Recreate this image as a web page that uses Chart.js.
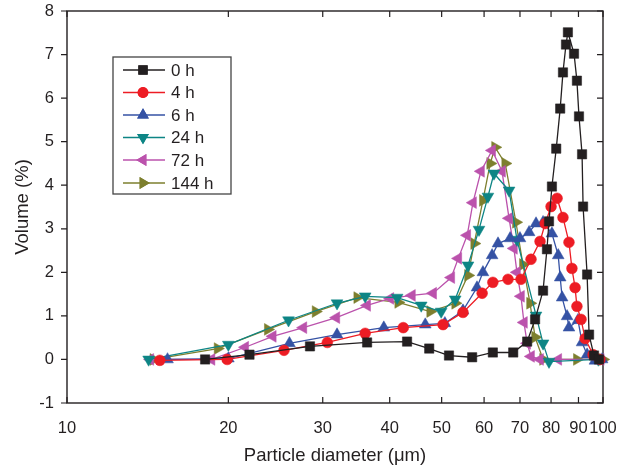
<!DOCTYPE html>
<html>
<head>
<meta charset="utf-8">
<script src="https://cdn.jsdelivr.net/npm/chart.js@4/dist/chart.umd.min.js"></script>
<style>
html,body{margin:0;padding:0;background:#fff;}
#wrap{width:631px;height:470px;}
</style>
</head>
<body>
<div id="wrap"><canvas id="c" width="631" height="470"></canvas></div>
<script>
// ---- data ----
const xTicks = [10, 20, 30, 40, 50, 60, 70, 80, 90, 100];
const yTicks = [-1, 0, 1, 2, 3, 4, 5, 6, 7, 8];
const seriesLabels = ['0 h', '4 h', '6 h', '24 h', '72 h', '144 h'];

const x0h = [18.1, 21.9, 28.4, 36.3, 43.1, 47.4, 51.6, 57.0, 62.3, 68.0, 72.2, 74.7, 77.3, 78.6, 79.3, 80.3, 81.8, 83.2, 84.2, 85.3, 86.0, 88.3, 89.4, 90.2, 91.4, 91.8, 93.4, 94.2, 96.2, 98.3];
const y0h = [0.0, 0.11, 0.30, 0.39, 0.41, 0.25, 0.09, 0.05, 0.16, 0.16, 0.41, 0.92, 1.58, 2.53, 3.17, 3.97, 4.84, 5.76, 6.59, 7.23, 7.51, 7.02, 6.40, 5.58, 4.71, 3.51, 1.95, 0.57, 0.09, 0.0];

const x4h = [14.9, 19.9, 25.4, 30.6, 36.0, 42.4, 50.3, 54.8, 59.5, 62.3, 66.5, 70.3, 73.4, 76.3, 78.0, 80.0, 82.1, 84.2, 86.4, 87.5, 88.7, 89.4, 91.0, 92.6, 95.8, 98.7];
const y4h = [-0.02, 0.0, 0.21, 0.39, 0.60, 0.73, 0.80, 1.08, 1.52, 1.77, 1.84, 1.84, 2.30, 2.71, 3.12, 3.51, 3.70, 3.26, 2.69, 2.09, 1.65, 1.22, 0.92, 0.48, 0.11, 0.0];

const x6h = [15.4, 20.0, 26.0, 31.9, 39.0, 46.6, 50.7, 54.8, 58.2, 59.7, 62.1, 63.7, 67.1, 70.0, 72.8, 75.0, 77.3, 80.3, 82.5, 83.2, 83.9, 85.7, 86.4, 89.8, 91.4, 93.4, 96.6, 99.6];
const y6h = [0.0, 0.02, 0.37, 0.57, 0.73, 0.80, 0.83, 1.12, 1.65, 2.00, 2.39, 2.66, 2.78, 2.78, 2.92, 3.12, 3.15, 2.89, 2.39, 1.88, 1.42, 0.99, 0.73, 0.90, 0.39, 0.11, -0.03, 0.0];

const x24h = [14.2, 20.0, 25.9, 31.9, 36.0, 41.3, 45.8, 49.9, 53.0, 56.0, 58.7, 61.0, 62.6, 66.8, 69.1, 75.0, 77.3, 79.3, 98.0];
const y24h = [0.0, 0.34, 0.90, 1.29, 1.45, 1.42, 1.24, 1.10, 1.38, 2.16, 2.98, 3.74, 4.27, 3.88, 2.75, 1.01, 0.37, -0.05, 0.0];

const x72h = [14.3, 18.6, 21.5, 24.2, 27.6, 31.8, 36.3, 40.1, 44.0, 48.2, 52.1, 53.7, 55.8, 57.2, 59.2, 62.1, 64.8, 66.8, 68.2, 69.1, 70.3, 71.2, 72.2, 73.4, 76.3, 82.5, 99.0];
const y72h = [0.0, 0.0, 0.28, 0.53, 0.73, 0.96, 1.24, 1.40, 1.47, 1.52, 1.88, 2.32, 2.85, 3.60, 4.32, 4.80, 4.32, 3.24, 2.55, 2.00, 1.45, 0.85, 0.37, 0.07, 0.0, 0.0, 0.0];

const x144h = [14.5, 19.1, 23.7, 29.1, 34.8, 41.5, 47.6, 53.0, 56.0, 57.5, 59.7, 61.6, 62.9, 65.7, 68.8, 70.9, 73.1, 74.7, 77.3, 89.4, 100.0];
const y144h = [0.0, 0.25, 0.69, 1.10, 1.42, 1.31, 1.10, 1.29, 1.93, 2.66, 3.65, 4.50, 4.87, 4.50, 3.15, 2.18, 1.29, 0.51, 0.0, 0.0, 0.0];

// ---- styles ----
const colors = ['#231f20', '#ed1c24', '#3552a4', '#0d8585', '#bb52ac', '#7d7f2e'];
const styles = [
  {pointStyle: 'rect', radius: 6.6, rotation: 0},
  {pointStyle: 'circle', radius: 5.4, rotation: 0},
  {pointStyle: 'triangle', radius: 6.8, rotation: 0},
  {pointStyle: 'triangle', radius: 6.8, rotation: 180},
  {pointStyle: 'triangle', radius: 6.8, rotation: 270},
  {pointStyle: 'triangle', radius: 6.8, rotation: 90}
];
const xs = [x0h, x4h, x6h, x24h, x72h, x144h];
const ys = [y0h, y4h, y6h, y24h, y72h, y144h];

const datasets = seriesLabels.map((lab, i) => ({
  label: lab,
  data: xs[i].map((x, k) => ({x: x, y: ys[i][k]})),
  borderColor: colors[i],
  backgroundColor: colors[i],
  borderWidth: 1.3,
  pointStyle: styles[i].pointStyle,
  pointRadius: styles[i].radius,
  pointRotation: styles[i].rotation,
  pointBorderWidth: 0.5,
  pointBorderColor: colors[i],
  pointBackgroundColor: colors[i],
  tension: 0,
  clip: false
}));

const FONT = '"Liberation Sans", Arial, Helvetica, sans-serif';

const framePlugin = {
  id: 'frame',
  beforeDatasetsDraw(chart) {
    const {ctx, chartArea: a, scales} = chart;
    ctx.save();
    ctx.strokeStyle = '#231f20';
    ctx.lineWidth = 1.4;
    ctx.strokeRect(a.left, a.top, a.right - a.left, a.bottom - a.top);
    ctx.lineWidth = 1.2;
    ctx.beginPath();
    const TL = 6;
    yTicks.forEach(v => {
      const y = scales.y.getPixelForValue(v);
      ctx.moveTo(a.left - TL, y); ctx.lineTo(a.left, y);
      ctx.moveTo(a.right, y); ctx.lineTo(a.right - TL, y);
    });
    xTicks.forEach(v => {
      const x = scales.x.getPixelForValue(v);
      ctx.moveTo(x, a.bottom); ctx.lineTo(x, a.bottom - TL);
      ctx.moveTo(x, a.top); ctx.lineTo(x, a.top + TL);
    });
    ctx.stroke();
    ctx.restore();
  }
};

const legendPlugin = {
  id: 'boxLegend',
  afterDraw(chart) {
    const {ctx} = chart;
    const bx = 113, by = 57, bw = 118, bh = 137;
    ctx.save();
    ctx.fillStyle = '#fff';
    ctx.fillRect(bx, by, bw, bh);
    ctx.strokeStyle = '#444';
    ctx.lineWidth = 1.3;
    ctx.strokeRect(bx, by, bw, bh);
    const rows = [70, 92.5, 115, 137.5, 160, 183];
    seriesLabels.forEach((lab, i) => {
      const y = rows[i];
      ctx.strokeStyle = colors[i];
      ctx.lineWidth = 1.3;
      ctx.beginPath();
      ctx.moveTo(123, y); ctx.lineTo(165, y);
      ctx.stroke();
      ctx.fillStyle = colors[i];
      Chart.helpers.drawPoint(ctx, {
        pointStyle: styles[i].pointStyle,
        radius: styles[i].radius,
        rotation: styles[i].rotation,
        borderWidth: 0
      }, 143, y);
      ctx.fill();
      ctx.fillStyle = '#231f20';
      ctx.font = '17px ' + FONT;
      ctx.textBaseline = 'middle';
      ctx.textAlign = 'left';
      ctx.fillText(lab, 171, y + 1);
    });
    ctx.restore();
  }
};

const zeroPad = s => { s.paddingTop = 0; s.paddingBottom = 0; s.paddingLeft = 0; s.paddingRight = 0; };

new Chart(document.getElementById('c'), {
  type: 'line',
  data: {datasets: datasets},
  plugins: [framePlugin, legendPlugin],
  options: {
    responsive: false,
    animation: false,
    devicePixelRatio: 1,
    layout: {padding: {top: 11, right: 28, left: 0, bottom: 0}},
    plugins: {legend: {display: false}, tooltip: {enabled: false}},
    scales: {
      x: {
        type: 'logarithmic',
        min: 10, max: 100,
        afterBuildTicks: s => { s.ticks = xTicks.map(v => ({value: v, major: true})); },
        afterFit: s => { s.height = 67; zeroPad(s); },
        grid: {display: true, drawOnChartArea: false, drawTicks: false, color: 'rgba(0,0,0,0)'},
        border: {display: false},
        ticks: {
          autoSkip: false, maxRotation: 0, padding: 16,
          color: '#231f20', font: {family: FONT, size: 16.5},
          callback: v => String(v)
        },
        title: {display: true, text: 'Particle diameter (μm)', color: '#231f20',
                font: {family: FONT, size: 18.5}, padding: {top: 0, bottom: 3}}
      },
      y: {
        type: 'linear',
        min: -1, max: 8,
        afterBuildTicks: s => { s.ticks = yTicks.map(v => ({value: v})); },
        afterFit: s => { s.width = 67; zeroPad(s); },
        grid: {display: true, drawOnChartArea: false, drawTicks: false, color: 'rgba(0,0,0,0)'},
        border: {display: false},
        ticks: {
          autoSkip: false, padding: 13,
          color: '#231f20', font: {family: FONT, size: 16.5},
          callback: v => String(v)
        },
        title: {display: true, text: 'Volume (%)', color: '#231f20',
                font: {family: FONT, size: 18.5}, padding: {top: 12, bottom: 0}}
      }
    }
  }
});
</script>
</body>
</html>
